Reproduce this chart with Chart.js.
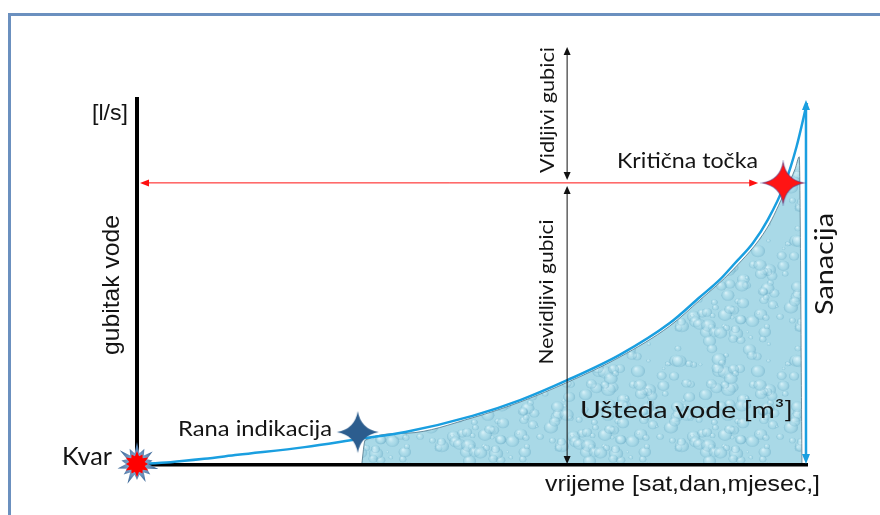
<!DOCTYPE html>
<html>
<head>
<meta charset="utf-8">
<script src="https://cdn.jsdelivr.net/npm/chart.js@4.4.0/dist/chart.umd.min.js"></script>
<style>
    html, body { margin: 0; padding: 0; background: #fff; }
    #okvir { position: relative; width: 880px; height: 515px; overflow: hidden; }
    #rub { position: absolute; left: 8px; top: 13px; width: 900px; height: 600px; border: 3px solid #6b90bf; box-sizing: border-box; }
    #graf { position: absolute; left: 0; top: 0; }
</style>
</head>
<body>
<div id="okvir">
    <div id="rub"></div>
    <canvas id="graf" width="880" height="515"></canvas>
</div>
<script>
// Krivulja gubitka vode (vrijeme i protok u postocima duljine osi)
const vrijemeKrivulja = [0, 5, 10, 15, 25, 33, 40, 50, 57.1, 64.2, 72, 79.4, 83.9, 86.9, 89, 91.8, 94, 96.6, 98.3, 99.85];
const gubitakKrivulja = [0, 0.5, 1.4, 2.5, 4.6, 6.8, 8.7, 13.1, 17.4, 22.9, 29.8, 38.4, 45.5, 50.3, 54.5, 60.2, 66.5, 76.6, 86.5, 98.4];

// Površina uštede vode, od rane indikacije do sanacije
const vrijemeUsteda = [33.5, 34.0, 40.2, 50, 57.1, 64.2, 72, 79.4, 83.9, 88.8, 93.9, 96.6, 98.1, 98.7, 99.1];
const gubitakUsteda = [0, 6.5, 8.4, 12.6, 16.9, 22.3, 29.2, 37.6, 44.7, 52.9, 64.3, 74.4, 80.5, 83.7, 0];

// Karakteristične točke: kvar, rana indikacija, kritična točka
const tockeNazivi = ['Kvar', 'Rana indikacija', 'Kritična točka'];
const tockeX = [0, 32.9, 96.3];
const tockeY = [0, 8.7, 76.6];

// Granica vidljivih/nevidljivih gubitaka i trenutak sanacije
const vrijemeGubici = 64.1;
const vrhVidljivih = 113.6;
const vrijemeSanacija = 99.7;
const vrhSanacija = 99.2;

// Zvijezda s četiri kraka (rana indikacija, kritična točka)
function zvijezda4(boja, rubBoja) {
    const c = document.createElement('canvas');
    c.width = 46; c.height = 46;
    const g = c.getContext('2d');
    const r = 21, k = 3;
    g.translate(23, 23);
    g.beginPath();
    g.moveTo(0, -r);
    g.quadraticCurveTo(k, -k, r, 0);
    g.quadraticCurveTo(k, k, 0, r);
    g.quadraticCurveTo(-k, k, -r, 0);
    g.quadraticCurveTo(-k, -k, 0, -r);
    g.closePath();
    g.fillStyle = boja;
    g.fill();
    if (rubBoja) {
        g.strokeStyle = rubBoja;
        g.lineWidth = 1.2;
        g.stroke();
    }
    return c;
}

// Eksplozija za trenutak kvara
function eksplozija() {
    const c = document.createElement('canvas');
    c.width = 48; c.height = 48;
    const g = c.getContext('2d');
    g.translate(24, 24);

    const krakovi = (n, vanjski, unutarnji) => {
        g.beginPath();
        for (let i = 0; i < n * 2; i++) {
            const a = -Math.PI / 2 + i * Math.PI / n;
            const rr = i % 2 === 0 ? vanjski[(i / 2) % vanjski.length] : unutarnji;
            const x = Math.cos(a) * rr, y = Math.sin(a) * rr;
            if (i === 0) g.moveTo(x, y); else g.lineTo(x, y);
        }
        g.closePath();
    };

    krakovi(14, [22, 17, 20, 16], 11);
    const plava = g.createRadialGradient(0, 0, 6, 0, 0, 22);
    plava.addColorStop(0, '#8fb0d6');
    plava.addColorStop(1, '#2f5d8e');
    g.fillStyle = plava;
    g.fill();

    krakovi(12, [13, 11], 8);
    g.fillStyle = '#ff0000';
    g.fill();
    return c;
}

// Tekstura kapljica vode za površinu uštede
function vodenaTekstura() {
    const c = document.createElement('canvas');
    c.width = 120; c.height = 120;
    const g = c.getContext('2d');
    g.fillStyle = '#a9d9e7';
    g.fillRect(0, 0, 120, 120);
    let s = 11;
    const slucajno = () => (s = (s * 9301 + 49297) % 233280) / 233280;
    for (let i = 0; i < 120; i++) {
        const x = slucajno() * 120, y = slucajno() * 120, r = 1.5 + slucajno() * 6;
        for (const dx of [-120, 0, 120]) {
            for (const dy of [-120, 0, 120]) {
                const cx = x + dx, cy = y + dy;
                const gr = g.createRadialGradient(cx - r * 0.3, cy - r * 0.35, r * 0.1, cx, cy, r);
                gr.addColorStop(0, 'rgba(228,247,252,0.7)');
                gr.addColorStop(0.6, 'rgba(165,216,231,0.3)');
                gr.addColorStop(1, 'rgba(88,158,188,0.45)');
                g.beginPath();
                g.ellipse(cx, cy, r, r * 0.85, 0, 0, Math.PI * 2);
                g.fillStyle = gr;
                g.fill();
            }
        }
    }
    return g.createPattern(c, 'repeat');
}

function strelica(ctx, x1, y1, x2, y2, boja, debljina, glava, polusirina) {
    const a = Math.atan2(y2 - y1, x2 - x1);
    const dx = Math.cos(a), dy = Math.sin(a);
    ctx.save();
    ctx.strokeStyle = boja;
    ctx.fillStyle = boja;
    ctx.lineWidth = debljina;
    ctx.beginPath();
    ctx.moveTo(x1 + dx * glava * 0.8, y1 + dy * glava * 0.8);
    ctx.lineTo(x2 - dx * glava * 0.8, y2 - dy * glava * 0.8);
    ctx.stroke();
    const vrh = (x, y, ux, uy) => {
        ctx.beginPath();
        ctx.moveTo(x, y);
        ctx.lineTo(x - ux * glava - uy * polusirina, y - uy * glava + ux * polusirina);
        ctx.lineTo(x - ux * glava + uy * polusirina, y - uy * glava - ux * polusirina);
        ctx.closePath();
        ctx.fill();
    };
    vrh(x2, y2, dx, dy);
    vrh(x1, y1, -dx, -dy);
    ctx.restore();
}

// Vodoravni tekst: lijevi rub, osnovica i željena širina
function vodoravno(ctx, tekst, lijevo, osnovica, font, sirina) {
    ctx.save();
    ctx.font = font;
    const w = ctx.measureText(tekst).width;
    ctx.translate(lijevo, osnovica);
    ctx.scale(sirina / w, 1);
    ctx.textAlign = 'left';
    ctx.textBaseline = 'alphabetic';
    ctx.fillText(tekst, 0, 0);
    ctx.restore();
}

// Okomiti tekst (čita se odozdo prema gore): središte i duljina
function okomito(ctx, tekst, cx, cy, font, duljina) {
    ctx.save();
    ctx.font = font;
    const w = ctx.measureText(tekst).width;
    ctx.translate(cx, cy);
    ctx.rotate(-Math.PI / 2);
    ctx.scale(duljina / w, 1);
    ctx.textAlign = 'center';
    ctx.textBaseline = 'middle';
    ctx.fillText(tekst, 0, 0);
    ctx.restore();
}

const kalibri = (px) => px + 'px Lato, "Open Sans", sans-serif';
const arial = (px) => px + 'px "Liberation Sans", Arial, sans-serif';

const crtez = {
    id: 'crtez',
    afterDatasetDraw(chart, args) {
        const ctx = chart.ctx;
        const x = chart.scales.x, y = chart.scales.y;
        const a = chart.chartArea;

        if (args.index === 2) {
            // osi preko površine uštede
            ctx.save();
            ctx.fillStyle = '#000';
            ctx.fillRect(a.left - 2, a.top, 4, a.bottom - a.top + 3);
            ctx.fillRect(a.left - 2, a.bottom - 1, a.right - a.left + 2, 3.5);
            ctx.restore();
        }

        if (args.index === 1) {
            const yKriticna = y.getPixelForValue(tockeY[2]);
            const xKriticna = x.getPixelForValue(tockeX[2]);
            strelica(ctx, a.left + 3, yKriticna, xKriticna - 25, yKriticna, '#ff1010', 1, 9, 3.5);

            const xg = x.getPixelForValue(vrijemeGubici);
            strelica(ctx, xg, y.getPixelForValue(vrhVidljivih), xg, yKriticna - 3, '#111', 1, 8, 3.5);
            strelica(ctx, xg, yKriticna + 3, xg, y.getPixelForValue(0), '#111', 1, 8, 3.5);

            const xs = x.getPixelForValue(vrijemeSanacija);
            strelica(ctx, xs, y.getPixelForValue(0), xs, y.getPixelForValue(vrhSanacija), '#1a9fe0', 2.5, 10, 4);
        }
    },
    afterDraw(chart) {
        const ctx = chart.ctx;
        ctx.fillStyle = '#141414';
        vodoravno(ctx, '[l/s]', 92, 120, arial(22), 36);
        okomito(ctx, 'gubitak vode', 112, 285, arial(24), 140);
        vodoravno(ctx, 'vrijeme [sat,dan,mjesec,]', 545, 491, arial(22), 275);

        vodoravno(ctx, tockeNazivi[0], 62, 465, kalibri(25), 50);
        vodoravno(ctx, tockeNazivi[1], 178, 436, kalibri(22), 154);
        vodoravno(ctx, tockeNazivi[2], 617, 168, kalibri(21), 141);
        vodoravno(ctx, 'Ušteda vode [m³]', 580, 418, kalibri(24), 213);

        okomito(ctx, 'Vidljivi gubici', 548, 110, kalibri(19), 126);
        okomito(ctx, 'Nevidljivi gubici', 547, 292, kalibri(19), 145);
        okomito(ctx, 'Sanacija', 825, 264, kalibri(25), 102);
    }
};

const tocke = (xs, ys) => xs.map((v, i) => ({ x: v, y: ys[i] }));

new Chart(document.getElementById('graf'), {
    type: 'line',
    data: {
        datasets: [
            {
                label: 'Točke',
                data: tocke(tockeX, tockeY),
                showLine: false,
                pointStyle: [eksplozija(), zvijezda4('#2c5d8e'), zvijezda4('#ff1414', 'rgba(70,60,140,0.55)')],
                pointRadius: 20,
                order: 0,
                clip: false
            },
            {
                label: 'Gubitak vode',
                data: tocke(vrijemeKrivulja, gubitakKrivulja),
                borderColor: '#1a9fe0',
                borderWidth: 2.5,
                pointRadius: 0,
                cubicInterpolationMode: 'monotone',
                fill: false,
                order: 1,
                clip: false
            },
            {
                label: 'Ušteda vode',
                data: tocke(vrijemeUsteda, gubitakUsteda),
                borderColor: 'rgba(70,110,130,0.75)',
                borderWidth: 1,
                backgroundColor: vodenaTekstura(),
                fill: 'origin',
                pointRadius: 0,
                cubicInterpolationMode: 'monotone',
                order: 2
            }
        ]
    },
    options: {
        responsive: false,
        animation: false,
        devicePixelRatio: 1,
        events: [],
        layout: { padding: { left: 137, right: 72, top: 97, bottom: 51 } },
        scales: {
            x: { type: 'linear', min: 0, max: 100, display: false },
            y: { type: 'linear', min: 0, max: 100, display: false }
        },
        plugins: {
            legend: { display: false },
            tooltip: { enabled: false }
        }
    },
    plugins: [crtez]
});
</script>
</body>
</html>
